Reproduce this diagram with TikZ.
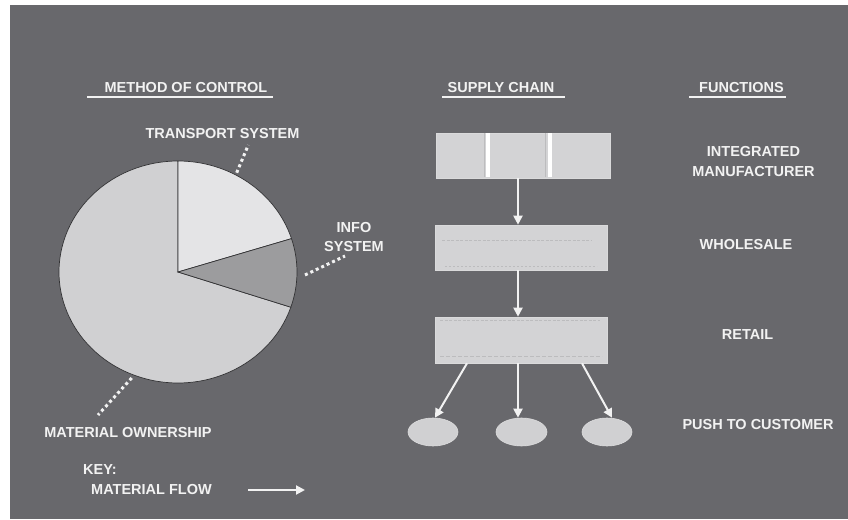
\documentclass[tikz,border=0pt]{standalone}
\usepackage{fontspec}
\setmainfont{Liberation Sans}
\usetikzlibrary{arrows.meta,shapes.geometric,calc}
\definecolor{bggray}{RGB}{104,104,108}
\definecolor{boxfill}{RGB}{211,211,213}
\definecolor{piea}{RGB}{228,228,230}
\definecolor{pieb}{RGB}{156,156,158}
\definecolor{piec}{RGB}{208,208,210}
\definecolor{pieline}{RGB}{50,50,52}
\definecolor{txt}{RGB}{242,242,242}
\definecolor{faint}{RGB}{188,188,190}
\tikzset{
  lbl/.style={text=txt,font=\fontsize{14.5}{17}\selectfont\bfseries,inner sep=0pt,align=center},
  uline/.style={draw=txt,line width=2pt},
  stage/.style={draw=boxfill!85!white,fill=boxfill,minimum width=172pt,minimum height=45pt,inner sep=0pt,line width=0.6pt},
  cust/.style={ellipse,draw=boxfill!80!white,fill=piec,minimum width=50pt,minimum height=28pt,inner sep=0pt,line width=0.6pt},
  flow/.style={draw=txt,line width=2pt,-{Triangle[length=9pt,width=9pt]}},
  leader/.style={draw=txt,line width=3pt,dash pattern=on 3pt off 3pt},
  slice/.style={draw=pieline,line width=0.7pt}
}
\begin{document}
\begin{tikzpicture}[x=1pt,y=1pt]
\useasboundingbox (0,0) rectangle (848,519);
\fill[white] (0,0) rectangle (848,519);
\fill[bggray] (10,0) rectangle (848,514);

% titles
\node[lbl] (t1) at (186,431) {METHOD OF CONTROL};
\node[lbl] (t2) at (501,431) {SUPPLY CHAIN};
\node[lbl] (t3) at (741.5,431) {FUNCTIONS};
\draw[uline] (87,422) -- (273,422);
\draw[uline] (442,422) -- (565,422);
\draw[uline] (689,422) -- (786,422);

% pie
\coordinate (C) at (178,247);
\filldraw[slice,fill=piec] (C) -- ++(-18.5:119 and 111) arc[start angle=-18.5,end angle=-270,x radius=119pt,y radius=111pt] -- cycle;
\filldraw[slice,fill=piea] (C) -- ++(90:119 and 111) arc[start angle=90,end angle=17.5,x radius=119pt,y radius=111pt] -- cycle;
\filldraw[slice,fill=pieb] (C) -- ++(17.5:119 and 111) arc[start angle=17.5,end angle=-18.5,x radius=119pt,y radius=111pt] -- cycle;

% pie labels and leaders
\node[lbl] (ts) at (222.5,385) {TRANSPORT SYSTEM};
\node[lbl,font=\fontsize{14.5}{19.5}\selectfont\bfseries] (is) at (354,282) {INFO\\SYSTEM};
\node[lbl] (mo) at (128,86) {MATERIAL OWNERSHIP};
\coordinate (ts1) at (236.7,346.3);
\coordinate (ts2) at (248.3,374);
\coordinate (is1) at (305,244);
\coordinate (is2) at (345,263);
\coordinate (mo1) at (131.7,141);
\coordinate (mo2) at (98,104);
\draw[leader] (ts1) -- (ts2);
\draw[leader] (is1) -- (is2);
\draw[leader] (mo1) -- (mo2);

% supply chain
\node[stage,minimum width=174pt] (b1) at (523,363.5) {};
\node[stage] (b2) at (521,271.5) {};
\node[stage,minimum height=46pt] (b3) at (521,179) {};
\draw[faint,line width=0.6pt] (484,341.5) -- (484,385.5);
\draw[faint,line width=0.6pt] (545,341.5) -- (545,385.5);
\draw[white,line width=3.5pt] (488,341.5) -- (488,385.5);
\draw[white,line width=3.5pt] (550,341.5) -- (550,385.5);
\draw[faint,line width=0.5pt,dash pattern=on 3pt off 1.5pt] (442,278.3) -- (592,278.3);
\draw[faint,line width=0.5pt,dash pattern=on 2pt off 2pt] (445,252.3) -- (597,252.3);
\draw[faint,line width=0.5pt,dash pattern=on 3pt off 1.5pt] (440,199) -- (600,199);
\draw[faint,line width=0.5pt,dash pattern=on 4pt off 2pt] (440,162.3) -- (602,162.3);

\node[cust] (e1) at (433,87) {};
\node[cust,minimum width=51pt] (e2) at (521.5,87) {};
\node[cust] (e3) at (607,87) {};

\draw[flow] ([xshift=-5pt]b1.south) -- ([xshift=-3pt]b2.north);
\draw[flow] ([xshift=-3pt]b2.south) -- ([xshift=-3pt]b3.north);
\draw[flow] ([xshift=-54pt]b3.south) -- ([xshift=2pt]e1.north);
\draw[flow] ([xshift=-3pt]b3.south) -- ([xshift=-3.5pt]e2.north);
\draw[flow] ([xshift=61pt]b3.south) -- ([xshift=5pt]e3.north);

% functions
\node[lbl,font=\fontsize{14.5}{20}\selectfont\bfseries] (f1) at (753.5,357) {INTEGRATED\\MANUFACTURER};
\node[lbl] (f2) at (746,274) {WHOLESALE};
\node[lbl] (f3) at (747.5,184) {RETAIL};
\node[lbl] (f4) at (758,94) {PUSH TO CUSTOMER};

% key
\node[lbl,anchor=west] (key) at (83,49) {KEY:};
\node[lbl] (mf) at (151.5,29) {MATERIAL FLOW};
\coordinate (k1) at (248,29);
\coordinate (k2) at (305,29);
\draw[flow] (k1) -- (k2);
\end{tikzpicture}
\end{document}
